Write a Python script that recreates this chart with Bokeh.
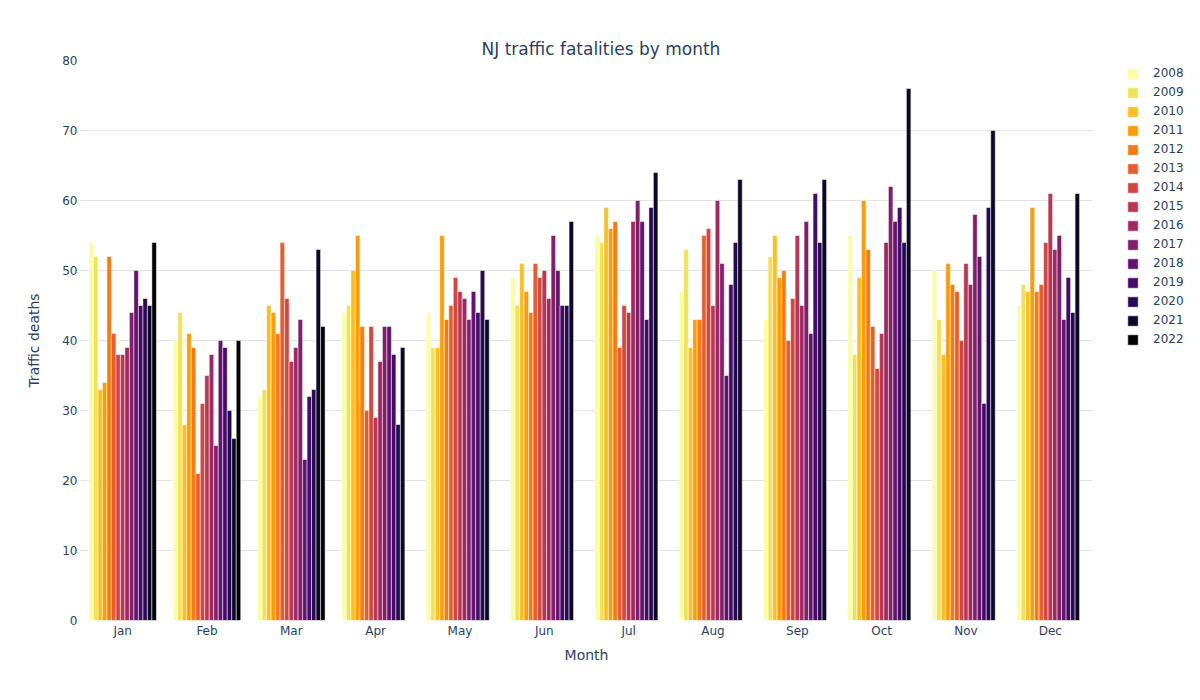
from bokeh.plotting import figure
from bokeh.models import ColumnDataSource, FactorRange, Range1d, Legend, LegendItem, Title
from bokeh.transform import dodge
from bokeh.palettes import inferno
from bokeh.embed import file_html
from bokeh.resources import INLINE

months = ["Jan", "Feb", "Mar", "Apr", "May", "Jun", "Jul", "Aug", "Sep", "Oct", "Nov", "Dec"]
years = ["2008", "2009", "2010", "2011", "2012", "2013", "2014", "2015",
         "2016", "2017", "2018", "2019", "2020", "2021", "2022"]

deaths_2008 = [54, 40, 32, 44, 44, 49, 55, 47, 43, 55, 50, 45]
deaths_2009 = [52, 44, 33, 45, 39, 45, 54, 53, 52, 38, 43, 48]
deaths_2010 = [33, 28, 45, 50, 39, 51, 59, 39, 55, 49, 38, 47]
deaths_2011 = [34, 41, 44, 55, 55, 47, 56, 43, 49, 60, 51, 59]
deaths_2012 = [52, 39, 41, 42, 43, 44, 57, 43, 50, 53, 48, 47]
deaths_2013 = [41, 21, 54, 30, 45, 51, 39, 55, 40, 42, 47, 48]
deaths_2014 = [38, 31, 46, 42, 49, 49, 45, 56, 46, 36, 40, 54]
deaths_2015 = [38, 35, 37, 29, 47, 50, 44, 45, 55, 41, 51, 61]
deaths_2016 = [39, 38, 39, 37, 46, 46, 57, 60, 45, 54, 48, 53]
deaths_2017 = [44, 25, 43, 42, 43, 55, 60, 51, 57, 62, 58, 55]
deaths_2018 = [50, 40, 23, 42, 47, 50, 57, 35, 41, 57, 52, 43]
deaths_2019 = [45, 39, 32, 38, 44, 45, 43, 48, 61, 59, 31, 49]
deaths_2020 = [46, 30, 33, 28, 50, 45, 59, 54, 54, 54, 59, 44]
deaths_2021 = [45, 26, 53, 39, 43, 57, 64, 63, 63, 76, 70, 61]
deaths_2022 = [54, 40, 42]

series = [deaths_2008, deaths_2009, deaths_2010, deaths_2011, deaths_2012,
          deaths_2013, deaths_2014, deaths_2015, deaths_2016, deaths_2017,
          deaths_2018, deaths_2019, deaths_2020, deaths_2021, deaths_2022]

title_text = "NJ traffic fatalities by month"

colors = list(inferno(15))[::-1]
TXT = "#2a3f5f"
FONT = "DejaVu Sans"

p = figure(frame_width=1012, frame_height=560,
           x_range=FactorRange(factors=months, range_padding=0),
           y_range=Range1d(0, 80), output_backend="svg", toolbar_location=None,
           min_border_left=80, min_border_right=92, min_border_top=60,
           min_border_bottom=64)
p.background_fill_color = "white"
p.border_fill_color = "white"
p.outline_line_color = None

n = len(years)
group = 0.8
bw = group / n
items = []
for j, (yr, vals) in enumerate(zip(years, series)):
    src = ColumnDataSource(dict(month=months[:len(vals)], deaths=vals))
    off = -group / 2 + (j + 0.5) * bw
    r = p.vbar(x=dodge("month", off, range=p.x_range), top="deaths", width=bw,
               source=src, fill_color=colors[j], line_color="white", line_width=0.5)
    items.append(LegendItem(label=yr, renderers=[r]))

legend = Legend(items=items, location=(34, 274), padding=0, margin=0, spacing=5,
                glyph_height=13, glyph_width=13, label_height=13, label_standoff=14,
                label_text_font_size="12px", label_text_color=TXT,
                label_text_font=FONT, border_line_color=None,
                background_fill_alpha=0)
p.add_layout(legend, "right")

# title first, then a spacer that sits between the title and the plot frame
main_title = Title(text=title_text, align="left", offset=401, vertical_align="top",
                   standoff=0, text_font=FONT, text_font_size="17px",
                   text_font_style="normal", text_color=TXT)
p.add_layout(main_title, "above")
spacer = Title(text=" ", text_font_size="1px", standoff=23, text_alpha=0)
p.add_layout(spacer, "above")

p.xgrid.grid_line_color = None
p.ygrid.grid_line_color = "#e3e3e3"
p.ygrid.grid_line_width = 1
p.yaxis.ticker = list(range(0, 81, 10))

for ax in (p.xaxis[0], p.yaxis[0]):
    ax.axis_line_color = None
    ax.major_tick_line_color = None
    ax.minor_tick_line_color = None
    ax.major_label_text_font = FONT
    ax.major_label_text_font_size = "12px"
    ax.major_label_text_color = TXT
    ax.axis_label_text_font = FONT
    ax.axis_label_text_font_size = "14px"
    ax.axis_label_text_font_style = "normal"
    ax.axis_label_text_color = TXT

p.xaxis.axis_label = "Month"
p.yaxis.axis_label = "Traffic deaths"
p.xaxis.major_label_standoff = 3
p.yaxis.major_label_standoff = 3
p.xaxis.axis_label_standoff = 6
p.yaxis.axis_label_standoff = 17
p.yaxis.major_tick_out = 0
p.xaxis.major_tick_out = 0
p.yaxis.major_tick_in = 0
p.xaxis.major_tick_in = 0

open("out.html", "w").write(file_html(p, INLINE))
